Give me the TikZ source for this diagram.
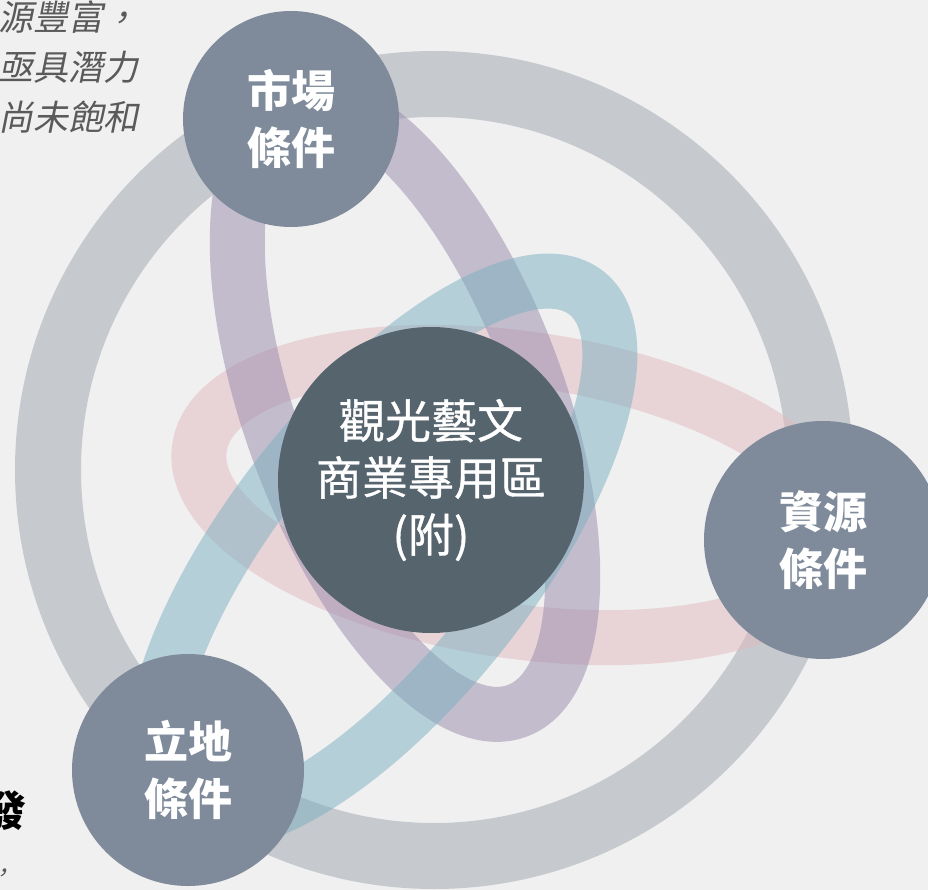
\documentclass[tikz,border=0pt]{standalone}
\usepackage{fontspec}
\usepackage{xcolor}
\setmainfont{Noto Sans CJK TC}
\newfontfamily\notefont[FakeSlant=0.2]{Noto Sans CJK TC}
\newfontfamily\hubfont[FakeBold=0.8]{Noto Sans CJK TC}
\usetikzlibrary{positioning}

\definecolor{bgcol}{HTML}{F0F0F0}
\definecolor{ringgray}{HTML}{C6C9CE}
\definecolor{bandpink}{HTML}{E2BAC0}
\definecolor{bandpurple}{HTML}{988AAC}
\definecolor{bandteal}{HTML}{7AB0C0}
\definecolor{satgray}{HTML}{7F8B9B}
\definecolor{hubgray}{HTML}{56646E}
\definecolor{notegray}{HTML}{5A5A5A}

\begin{document}
\begin{tikzpicture}[
	%	style def
    x=1pt, y=-1pt,
    outer ring/.style={draw=ringgray, line width=66pt},
    band/.style={line width=55pt, draw opacity=0.5},
    satellite/.style={circle, fill=satgray, inner sep=0pt, text=white,
        align=center, font=\fontsize{44}{57}\selectfont\bfseries},
    hub/.style={circle, fill=hubgray, inner sep=0pt, minimum size=306pt,
        text=white, align=center, font=\fontsize{46}{57}\selectfont\hubfont},
    note/.style={anchor=base east, inner sep=0pt, text=notegray,
        font=\fontsize{35}{50}\selectfont\notefont}
    ]

	% page and background
	\useasboundingbox (0,0) rectangle (928,890);
	\fill[bgcol] (0,0) rectangle (928,890);
	\clip (0,0) rectangle (928,890);

	% big ring through the three conditions
	\draw[outer ring] (434,470) circle [radius=386pt];

	% three orbits
	\draw[band, draw=bandpink, shift={(520,495)}, rotate=-8.4] (0,0) ellipse [x radius=324pt, y radius=136pt];
	\draw[band, draw=bandpurple, shift={(405,409)}, rotate=-69.6] (0,0) ellipse [x radius=322pt, y radius=133pt];
	\draw[band, draw=bandteal, shift={(382,552)}, rotate=51.7] (0,0) ellipse [x radius=330pt, y radius=128pt];

	% centre
	\node[hub] (core) at (431,480) {觀光藝文\\商業專用區\\(附)};

	% conditions
	\node[satellite, minimum size=216pt] (market) at (291,119) {市場\\條件};
	\node[satellite, minimum size=238pt] (resource) at (823,540) {資源\\條件};
	\node[satellite, minimum size=232pt] (land) at (188,770) {立地\\條件};

	% cut off side texts
	\node[note] (note1) at (139,31) {源豐富，};
	\node[note] (note2) at (139,81) {亟具潛力};
	\node[note] (note3) at (139,131) {尚未飽和};
	\node[anchor=base east, inner sep=0pt, font=\fontsize{42}{50}\selectfont\bfseries] (fa) at (27,826) {發};
	\node[anchor=base west, inner sep=0pt, text=notegray, font=\fontsize{24}{30}\selectfont\notefont] (comma) at (-10,881) {，};
\end{tikzpicture}
\end{document}
